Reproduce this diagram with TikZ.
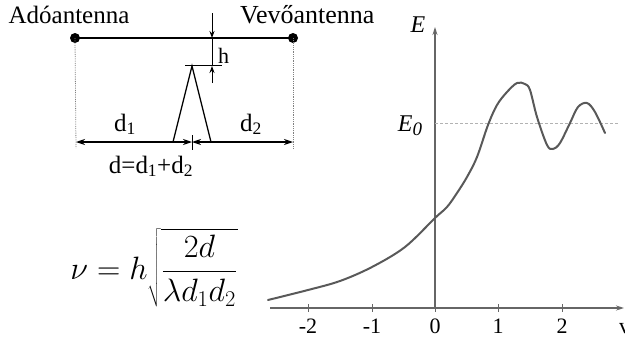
\documentclass[tikz,border=0pt]{standalone}
\usepackage{fontspec}
\setmainfont{Liberation Serif}
\usetikzlibrary{arrows.meta}
\begin{document}
\begin{tikzpicture}[x=1pt,y=-1pt,
  lbl/.style={inner sep=0pt,font=\fontsize{25}{28}\selectfont},
  tlbl/.style={inner sep=0pt,font=\fontsize{22}{26}\selectfont},
  dotn/.style={circle,fill=black,inner sep=0pt,minimum size=10pt},
  blk/.style={line width=1.3pt,black},
  dimarr/.style={line width=1.1pt,{Stealth[length=9pt,width=6pt]}-{Stealth[length=9pt,width=6pt]}},
  harr/.style={line width=1pt,-{Stealth[length=7pt,width=5pt]}},
  guide/.style={gray,line width=0.8pt,densely dotted},
  ax/.style={line width=1.1pt,black!60},
  curve/.style={line width=2pt,black!65,line cap=round}]
\useasboundingbox (0,0) rectangle (625,338);
% antenna names
\node[lbl,anchor=base] (ado) at (69,23) {Adóantenna};
\node[lbl,anchor=base west,font=\fontsize{26}{28}\selectfont] (vevo) at (240,23) {Vevőantenna};
% antennas and line of sight
\node[dotn] (A) at (75,38) {};
\node[dotn] (B) at (293,38) {};
\draw[line width=2.4pt] (A.center) -- (B.center);
% obstacle
\coordinate (P) at (192,66);
\coordinate (L) at (173,142);
\coordinate (R) at (211,142);
\draw[blk] (L) -- (P) -- (R);
% h marking
\coordinate (hT) at (212,13);
\coordinate (hA) at (212,38);
\coordinate (hB) at (212,66);
\coordinate (hE) at (212,83);
\draw[harr] (hT) -- (hA);
\draw[harr] (hE) -- (hB);
\draw[line width=0.8pt] (hA) -- (hB);
\coordinate (tL) at (185,65);
\coordinate (tR) at (222,65);
\draw[line width=0.8pt] (tL) -- (tR);
\node[inner sep=0pt,font=\fontsize{22}{26}\selectfont,anchor=base west] (h) at (218,63) {h};
% guides
\coordinate (gA) at (76,148);
\coordinate (gB) at (293,148);
\draw[guide] (A.center) -- (gA);
\draw[guide] (B.center) -- (gB);
% dimension arrows
\coordinate (d0) at (76,142);
\coordinate (dm) at (192,142);
\coordinate (d3) at (293,142);
\draw[dimarr] (d0) -- (dm);
\draw[dimarr] (dm) -- (d3);
\coordinate (dmT) at (192,135);
\coordinate (dmB) at (192,150);
\draw[line width=0.8pt] (dmT) -- (dmB);
\node[lbl,anchor=base] (d1) at (125,131) {d\textsubscript{1}};
\node[lbl,anchor=base] (d2) at (251,131) {d\textsubscript{2}};
\node[lbl,anchor=base] (dsum) at (151,173) {d=d\textsubscript{1}+d\textsubscript{2}};
% formula
\node[inner sep=0pt,font=\fontsize{25}{28}\selectfont,scale=1.3] (form) at (154,268)
  {$\displaystyle \nu = h\sqrt{\frac{2d}{\lambda d_1 d_2}}$};
% graph
\coordinate (O) at (435,308);
\coordinate (xs) at (270,308);
\coordinate (xe) at (624,308);
\coordinate (yt) at (435,27);
\draw[ax,-{Stealth[length=8pt,width=5pt]}] (xs) -- (xe);
\draw[ax,-{Stealth[length=8pt,width=5pt]}] (O) -- (yt);
\coordinate (e0s) at (435,123);
\coordinate (e0e) at (618,123);
\draw[black!30,line width=0.8pt,densely dashed] (e0s) -- (e0e);
\foreach \x/\t in {308/-2,372/-1,435/0,498/1,562/2}{
  \draw[ax,line width=0.9pt] (\x,304) -- (\x,312);
  \node[tlbl,anchor=base] (tk\x) at (\x,333) {\t};
}
\node[tlbl,anchor=base west] (vlab) at (619,333) {v};
\node[lbl,font=\fontsize{24}{28}\selectfont\itshape] (E) at (418,25) {E};
\node[lbl,font=\fontsize{24}{28}\selectfont\itshape] (E0) at (410,126) {E\raisebox{-0.35ex}{\fontsize{19}{22}\selectfont 0}};
\draw[curve] plot[smooth,tension=0.55] coordinates {
 (268,300) (308,290) (340,281) (372,267) (405,247) (435,218) (447,207)
 (457,193) (467,177) (477,157) (488,125) (497,105) (507,92) (517,83)
 (525,84) (530,90) (537,117) (547,145) (553,149) (560,143) (570,123)
 (578,107) (587,103) (595,112) (605,133)};
\end{tikzpicture}
\end{document}
